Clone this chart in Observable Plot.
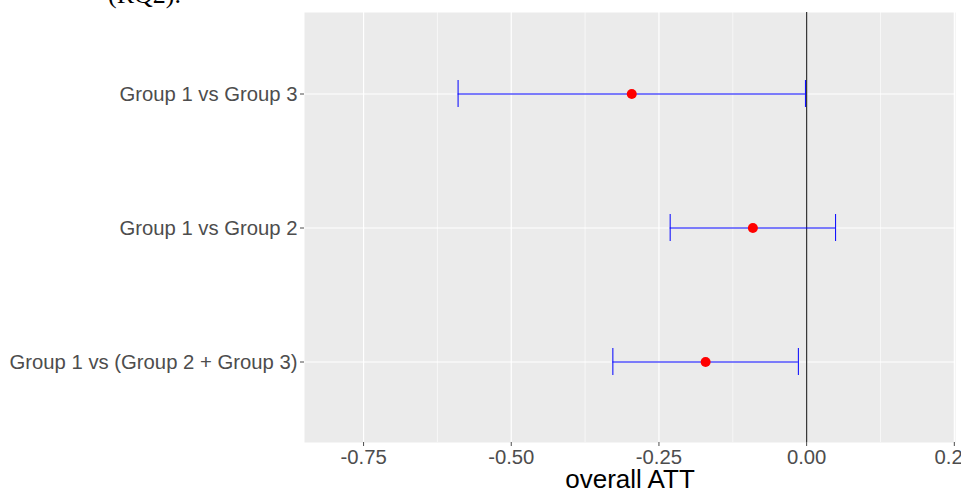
<!DOCTYPE html>
<html>
<head>
<meta charset="utf-8">
<script src="https://cdn.jsdelivr.net/npm/d3@7"></script>
<script src="https://cdn.jsdelivr.net/npm/@observablehq/plot@0.6"></script>
<style>
  html, body { margin: 0; padding: 0; background: #fff; overflow: hidden; }
  #wrap { position: relative; width: 961px; height: 491px; }
  #note { position: absolute; left: 108px; top: -18px; font: 26px "Liberation Serif", "DejaVu Serif", serif; line-height: 26px; color: #000; }
</style>
</head>
<body>
<div id="wrap">
  <div id="chart"></div>
  <div id="note">(RQ2).</div>
</div>
<script>
const categories = ["Group 1 vs Group 3", "Group 1 vs Group 2", "Group 1 vs (Group 2 + Group 3)"];
const estimates = [-0.296, -0.091, -0.171];
const lower = [-0.590, -0.231, -0.328];
const upper = [-0.002, 0.049, -0.014];
const majorTicks = [-0.75, -0.5, -0.25, 0, 0.25];
const minorTicks = [-0.625, -0.375, -0.125, 0.125];

const data = categories.map((c, i) => ({cat: c, est: estimates[i], lo: lower[i], hi: upper[i]}));

const chart = Plot.plot({
  width: 961,
  height: 491,
  marginLeft: 304,
  marginRight: 6,
  marginTop: 12,
  marginBottom: 49,
  style: {fontFamily: "Liberation Sans, Arial, sans-serif", background: "transparent", overflow: "visible"},
  x: {domain: [-0.85, 0.252], label: null},
  y: {type: "band", domain: categories, paddingInner: 0.8, paddingOuter: 0.5, label: null},
  marks: [
    Plot.frame({fill: "#ebebeb", stroke: null}),
    Plot.ruleX(minorTicks, {stroke: "white", strokeWidth: 0.6}),
    Plot.ruleX(majorTicks, {stroke: "white", strokeWidth: 1.2}),
    Plot.ruleY(categories, {y: d => d, stroke: "white", strokeWidth: 1.2}),
    Plot.ruleX([0], {stroke: "#333", strokeWidth: 1.2}),
    Plot.ruleY(data, {y: "cat", x1: "lo", x2: "hi", stroke: "#0000ff", strokeWidth: 1}),
    Plot.tickX(data, {x: "lo", y: "cat", stroke: "#0000ff", strokeWidth: 1}),
    Plot.tickX(data, {x: "hi", y: "cat", stroke: "#0000ff", strokeWidth: 1}),
    Plot.dot(data, {x: "est", y: "cat", fill: "#ff0000", stroke: null, r: 5}),
    Plot.axisX(majorTicks, {tickSize: 4, tickPadding: 3, fontSize: 20.3, color: "#4d4d4d", tickFormat: d => d.toFixed(2), label: null}),
    Plot.axisY({tickSize: 4, tickPadding: 3, fontSize: 20.3, color: "#4d4d4d", label: null}),
    Plot.text(["overall ATT"], {frameAnchor: "bottom", dy: 45, fontSize: 26, fill: "#000"})
  ]
});
document.getElementById("chart").appendChild(chart);
</script>
</body>
</html>
